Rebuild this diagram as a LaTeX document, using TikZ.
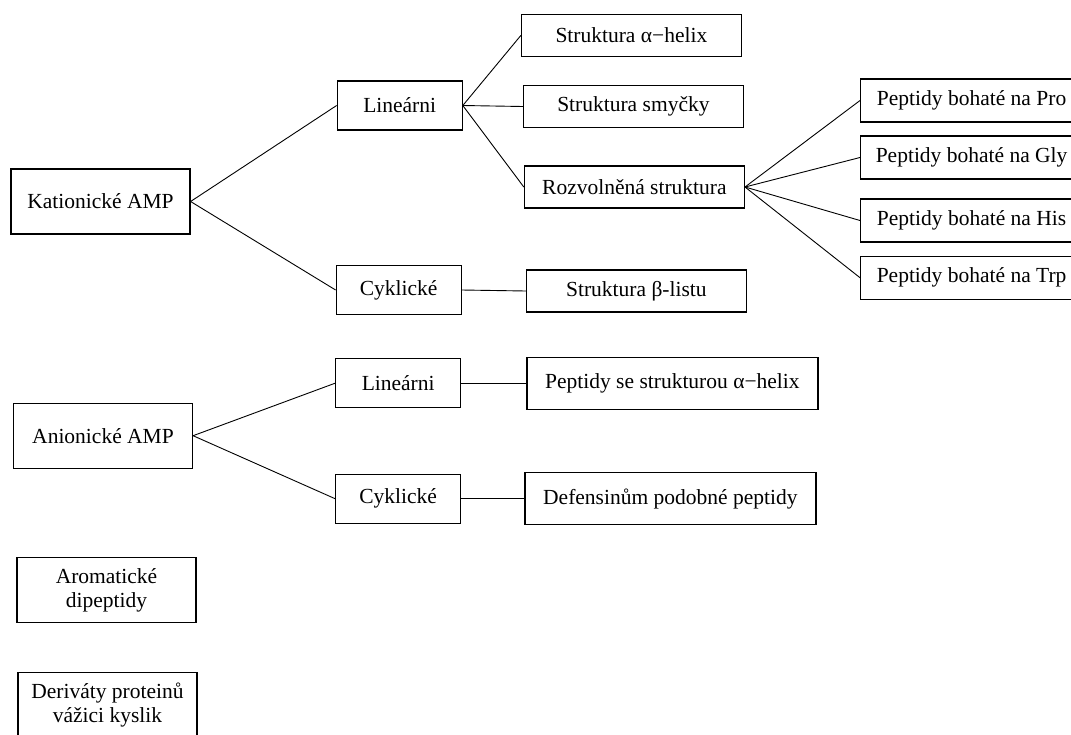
\documentclass[tikz,border=0pt]{standalone}
\usepackage{fontspec}
\setmainfont{Liberation Serif}
\usetikzlibrary{positioning}

\begin{document}
\begin{tikzpicture}[
    x=1pt, y=-1pt,
    box/.style={rectangle, draw, line width=1.2pt, inner sep=0pt, align=center, font=\fontsize{21.5}{24}\selectfont},
    rootbox/.style={box, minimum width=179pt, minimum height=65pt},
    midbox/.style={box, minimum width=125pt, minimum height=49pt},
    leafbox/.style={box, minimum width=220pt, minimum height=42pt},
    richbox/.style={box, minimum width=222pt, minimum height=43pt},
    widebox/.style={box, minimum width=291pt, minimum height=52pt},
    link/.style={line width=0.9pt}
]
\useasboundingbox (0,0) rectangle (1071,734);

% kationicke
\node[rootbox] (kat) at (100.5,201.5) {Kationické AMP};
\node[midbox, right=146pt of kat, yshift=96pt] (lin1) {Lineárni};
\node[midbox, right=145pt of kat, yshift=-88.5pt] (cyk1) {Cyklické};
\node[leafbox, right=58pt of lin1, yshift=70pt] (alfa) {Struktura α−helix};
\node[leafbox, right=60pt of lin1, yshift=-1pt] (smycka) {Struktura smyčky};
\node[leafbox, right=61pt of lin1, yshift=-81.5pt] (rozv) {Rozvolněná struktura};
\node[leafbox, right=64pt of cyk1, yshift=-1pt] (beta) {Struktura β-listu};
\node[richbox, right=115pt of rozv, yshift=86.5pt] (pro) {Peptidy bohaté na Pro};
\node[richbox, below=12.8pt of pro] (gly) {Peptidy bohaté na Gly};
\node[richbox, below=18.8pt of gly] (his) {Peptidy bohaté na His};
\node[richbox, below=13pt of his] (trp) {Peptidy bohaté na Trp};

% anionicke
\node[rootbox, below=168pt of kat, xshift=2.5pt] (ani) {Anionické AMP};
\node[midbox, right=142pt of ani, yshift=52.5pt] (lin2) {Lineárni};
\node[midbox, right=142pt of ani, yshift=-63pt] (cyk2) {Cyklické};
\node[widebox, right=65pt of lin2] (phelix) {Peptidy se strukturou α−helix};
\node[widebox, right=63pt of cyk2] (defens) {Defensinům podobné peptidy};

% ostatni
\node[rootbox, below=88pt of ani, xshift=3.5pt] (arom) {Aromatické\\dipeptidy};
\node[rootbox, below=49pt of arom, xshift=1pt] (deriv) {Deriváty proteinů\\vážici kyslik};

\draw[link] (kat.east) -- (lin1.west);
\draw[link] (kat.east) -- (cyk1.west);
\draw[link] (lin1.east) -- (alfa.west);
\draw[link] (lin1.east) -- (smycka.west);
\draw[link] (lin1.east) -- (rozv.west);
\draw[link] (cyk1.east) -- (beta.west);
\draw[link] (rozv.east) -- (pro.west);
\draw[link] (rozv.east) -- (gly.west);
\draw[link] (rozv.east) -- (his.west);
\draw[link] (rozv.east) -- (trp.west);
\draw[link] (ani.east) -- (lin2.west);
\draw[link] (ani.east) -- (cyk2.west);
\draw[link] (lin2.east) -- (phelix.west);
\draw[link] (cyk2.east) -- (defens.west);
\end{tikzpicture}
\end{document}
